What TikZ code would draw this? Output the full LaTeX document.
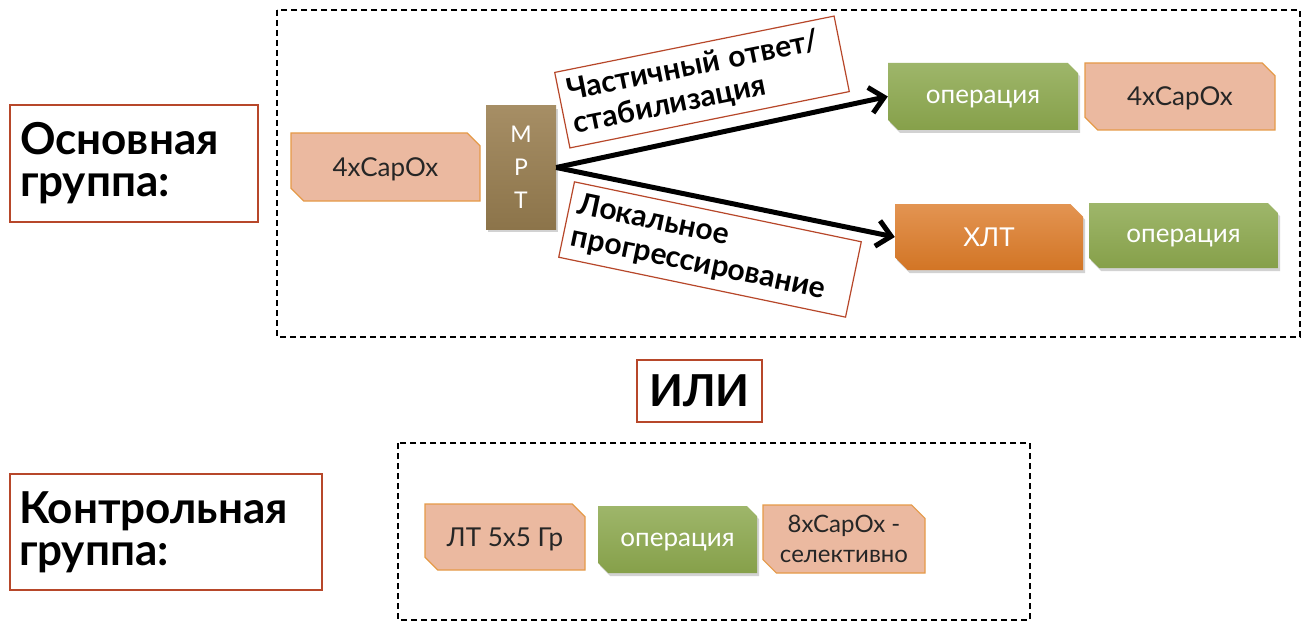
\documentclass[tikz,border=0pt]{standalone}
\usepackage{fontspec}
\setmainfont{Lato}
\usetikzlibrary{shapes.misc,arrows.meta,shadows}
\definecolor{salmon}{HTML}{EBB9A0}
\definecolor{salmonb}{HTML}{E59A48}
\definecolor{redb}{HTML}{B7472A}
\definecolor{greent}{HTML}{9EB66A}
\definecolor{greenb}{HTML}{86A04A}
\definecolor{oranget}{HTML}{E39452}
\definecolor{orangeb}{HTML}{D27525}
\definecolor{brownt}{HTML}{A68E65}
\definecolor{brownb}{HTML}{8C744A}
\tikzset{
  snip/.style={chamfered rectangle, chamfered rectangle corners={north east,south west},
    chamfered rectangle xsep=10pt, chamfered rectangle angle=45, inner sep=0pt,
    align=center, font=\fontsize{26}{30}\selectfont, text depth=0pt},
  salmonbox/.style={snip, fill=salmon, draw=salmonb, line width=1.2pt, text=black!85},
  greenbox/.style={snip, top color=greent, bottom color=greenb, draw=none, text=white,
    drop shadow={opacity=0.35, shadow xshift=2pt, shadow yshift=-3pt}},
  orangebox/.style={snip, top color=oranget, bottom color=orangeb, draw=none, text=white,
    drop shadow={opacity=0.35, shadow xshift=2pt, shadow yshift=-3pt}},
  grouplabel/.style={draw=redb, line width=1.5pt, fill=white, align=left, inner sep=0pt,
    font=\bfseries\fontsize{44}{42}\selectfont},
  branchlabel/.style={draw=redb, line width=1.2pt, fill=white, align=left, inner sep=0pt,
    font=\bfseries\fontsize{30}{33}\selectfont, minimum width=285pt, minimum height=77pt},
  dashbox/.style={draw=black, line width=1.8pt, dash pattern=on 6pt off 4pt},
  thickarrow/.style={line width=5pt, -{Straight Barb[length=14pt,width=26pt,line width=5pt]}}
}
\begin{document}
\begin{tikzpicture}[x=1pt,y=-1pt]
\useasboundingbox (0,0) rectangle (1311,623);
\fill[white] (0,0) rectangle (1311,623);
% dashed frames
\draw[dashbox] (277,10) rectangle (1300,337);
\draw[dashbox] (398,443) rectangle (1030,620);
% group labels
\node[grouplabel, minimum width=248pt, minimum height=117pt, text width=228pt] (g1) at (134,163.5) {Основная\\группа:};
\node[grouplabel, minimum width=312pt, minimum height=116pt, text width=294pt] (g2) at (166,532) {Контрольная\\группа:};
\node[grouplabel, minimum width=125pt, minimum height=62pt, align=center] (ili) at (699.5,391) {ИЛИ};
% main group
\node[salmonbox, minimum width=189pt, minimum height=68pt] (cap1) at (385.5,167) {4xCapOx};
\node[rectangle, top color=brownt, bottom color=brownb, minimum width=70pt, minimum height=123pt,
  inner sep=0pt, text=white, align=center, font=\fontsize{23}{33}\selectfont,
  drop shadow={opacity=0.35, shadow xshift=2pt, shadow yshift=-3pt}] (mrt) at (521,167.5) {М\\Р\\Т};
\node[greenbox, minimum width=190pt, minimum height=67pt] (op1) at (983,96.5) {операция};
\node[salmonbox, minimum width=190pt, minimum height=67pt] (cap2) at (1180,96.5) {4xCapOx};
\node[orangebox, minimum width=188pt, minimum height=66pt] (xlt) at (989,237) {ХЛТ};
\node[greenbox, minimum width=189pt, minimum height=65pt] (op2) at (1183.5,235.5) {операция};
\draw[thickarrow] (mrt.east) -- (op1.west);
\draw[thickarrow] (mrt.east) -- (xlt.west);
\node[branchlabel, rotate=11.4, text width=268pt] (lab1) at (702,82) {Частичный ответ/\\стабилизация};
\node[branchlabel, rotate=-11.8, minimum width=293pt, text width=276pt] (lab2) at (710,249.5) {Локальное\\прогрессирование};
% control group
\node[salmonbox, minimum width=160pt, minimum height=66pt] (lt) at (505,537) {ЛТ 5x5 Гр};
\node[greenbox, minimum width=159pt, minimum height=67pt] (op3) at (677.5,539.5) {операция};
\node[salmonbox, minimum width=162pt, minimum height=68pt, font=\fontsize{24}{30}\selectfont] (cap3) at (844,539) {8xCapOx -\\селективно};
\end{tikzpicture}
\end{document}
